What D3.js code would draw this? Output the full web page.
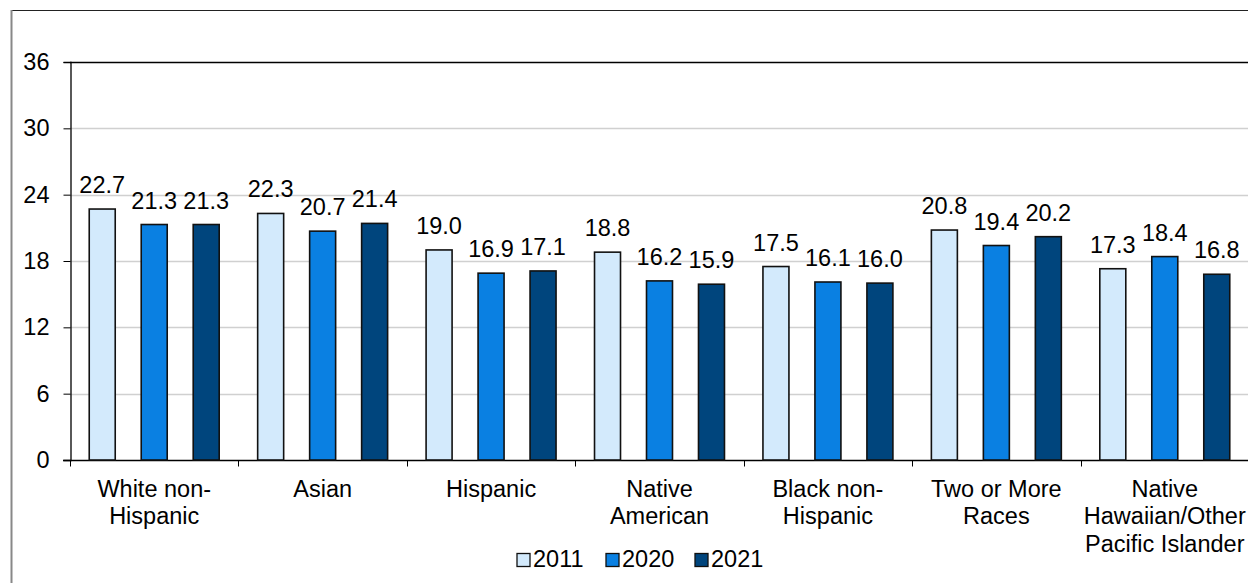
<!DOCTYPE html>
<html><head><meta charset="utf-8">
<script src="https://cdn.jsdelivr.net/npm/d3@7"></script>
<style>body{margin:0;background:#fff}svg{display:block}text{font-family:"Liberation Sans",Arial,sans-serif;fill:#000}</style>
</head><body><svg id="c" width="1248" height="583"></svg>
<script>
const categories = [["White non-","Hispanic"],["Asian"],["Hispanic"],["Native","American"],["Black non-","Hispanic"],["Two or More","Races"],["Native","Hawaiian/Other","Pacific Islander"]];
const seriesNames = ["2011","2020","2021"];
const v2011 = [22.7,22.3,19.0,18.8,17.5,20.8,17.3];
const v2020 = [21.3,20.7,16.9,16.2,16.1,19.4,18.4];
const v2021 = [21.3,21.4,17.1,15.9,16.0,20.2,16.8];
const yTicks = [0,6,12,18,24,30,36];
const colors = ["#d3eafc","#0a80e2","#00457d"];

const series = [v2011,v2020,v2021];
const svg = d3.select("#c");
const L=70, R=1249, T=62, B=460;
const FS = 23.5;

// outer border
svg.append("line").attr("x1",11).attr("x2",1248).attr("y1",10.5).attr("y2",10.5).attr("stroke","#222").attr("stroke-width",1);
svg.append("line").attr("x1",11.5).attr("x2",11.5).attr("y1",10).attr("y2",583).attr("stroke","#888").attr("stroke-width",2);

const idx = categories.map((c,i)=>i);
const x0 = d3.scaleBand().domain(idx).range([L,R]).padding(0);
const x1 = d3.scaleBand().domain(seriesNames).range([0,x0.bandwidth()]).paddingInner(0.5).paddingOuter(0.37);
const y = d3.scaleLinear().domain([0,36]).range([B,T]);

// gridlines
svg.append("g").selectAll("line").data(yTicks.filter(t=>t>0&&t<36)).join("line")
  .attr("x1",L).attr("x2",R).attr("y1",d=>Math.round(y(d))+0.5).attr("y2",d=>Math.round(y(d))+0.5)
  .attr("stroke","#d0d0d0").attr("stroke-width",1.5);
// top line
svg.append("line").attr("x1",L).attr("x2",R).attr("y1",T+0.5).attr("y2",T+0.5).attr("stroke","#000").attr("stroke-width",1.3);

// y axis
const yAxis = d3.axisLeft(y).tickValues(yTicks).tickSize(7).tickPadding(14).tickFormat(d3.format("d"));
const gy = svg.append("g").attr("transform",`translate(${L+0.5},0)`).call(yAxis);
gy.select(".domain").attr("stroke","#000").attr("stroke-width",1.3);
gy.selectAll(".tick line").attr("stroke","#000");
gy.selectAll("text").attr("font-size",FS).attr("font-family","Liberation Sans, Arial, sans-serif").attr("fill","#000");

// x axis
const gx = svg.append("g").attr("transform",`translate(0,${B+0.5})`);
gx.append("line").attr("x1",L-7).attr("x2",R).attr("stroke","#000").attr("stroke-width",1.3);
gx.selectAll(".xt").data(d3.range(categories.length+1)).join("line").attr("class","xt")
  .attr("x1",d=>Math.round(L+d*x0.bandwidth())+0.5).attr("x2",d=>Math.round(L+d*x0.bandwidth())+0.5)
  .attr("y1",0).attr("y2",6).attr("stroke","#000");
const catG = gx.selectAll(".cat").data(categories).join("text").attr("class","cat")
  .attr("text-anchor","middle").attr("font-size",FS)
  .attr("transform",(d,i)=>`translate(${x0(i)+x0.bandwidth()/2},36)`);
catG.selectAll("tspan").data(d=>d).join("tspan").attr("x",0).attr("y",(d,j)=>j*27.5).text(d=>d);

// bars
const grp = svg.append("g").selectAll("g").data(idx).join("g").attr("transform",i=>`translate(${x0(i)},0)`);
grp.selectAll("rect").data(i=>series.map((s,k)=>({k,v:s[i]}))).join("rect")
  .attr("x",d=>x1(seriesNames[d.k])).attr("width",x1.bandwidth())
  .attr("y",d=>y(d.v)).attr("height",d=>B-y(d.v))
  .attr("fill",d=>colors[d.k]).attr("stroke","#111").attr("stroke-width",1.6);
grp.selectAll("text").data(i=>series.map((s,k)=>({k,v:s[i]}))).join("text")
  .attr("x",d=>x1(seriesNames[d.k])+x1.bandwidth()/2).attr("y",d=>y(d.v)-16)
  .attr("text-anchor","middle").attr("font-size",FS).text(d=>d.v.toFixed(1));

// legend
const leg = svg.append("g");
const lx = [517,606,695];
seriesNames.forEach((n,k)=>{
  leg.append("rect").attr("x",lx[k]).attr("y",553.5).attr("width",13).attr("height",13)
    .attr("fill",colors[k]).attr("stroke","#111").attr("stroke-width",1.3);
  leg.append("text").attr("x",lx[k]+16).attr("y",567).attr("font-size",FS).text(n);
});
</script></body></html>
